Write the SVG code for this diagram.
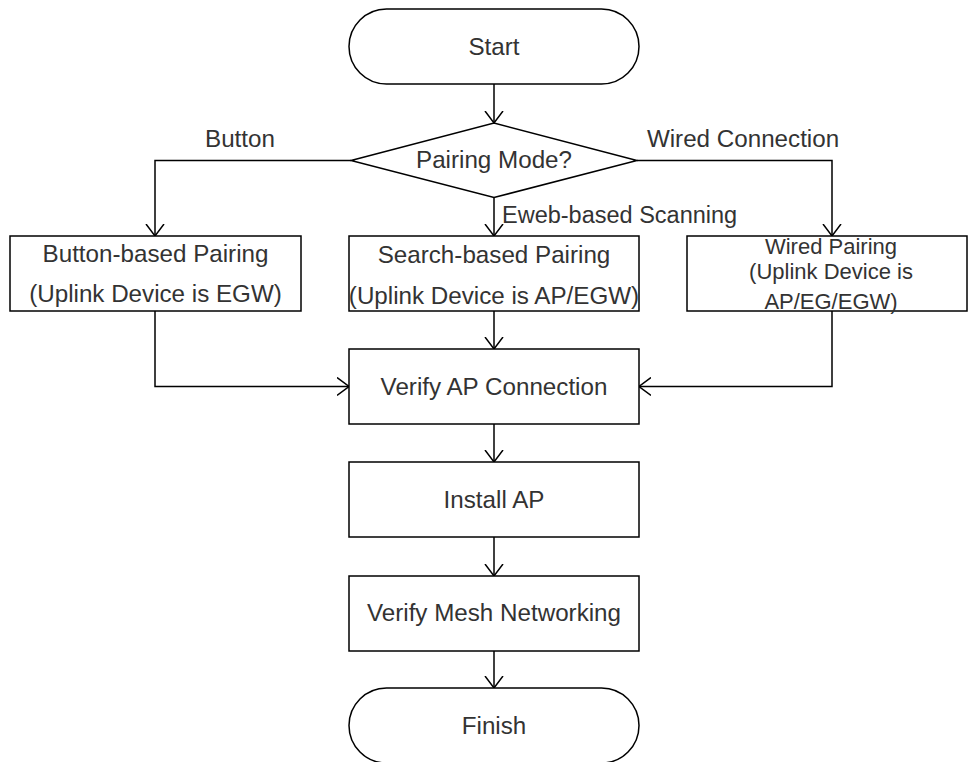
<svg xmlns="http://www.w3.org/2000/svg" width="968" height="762" viewBox="0 0 968 762">
<defs>
<style>
.shape{fill:#ffffff;stroke:#000000;stroke-width:1.5}
.t{font-family:"Liberation Sans",Arial,sans-serif;font-size:24.2px;fill:#333333;text-anchor:middle}
.lbl{font-family:"Liberation Sans",Arial,sans-serif;font-size:23.5px;fill:#333333}
.w{font-size:22px}
.c{fill:none;stroke:#000000;stroke-width:1.5}
</style>
<marker id="arr" viewBox="0 0 12 20" refX="12" refY="10" markerWidth="12" markerHeight="20" markerUnits="userSpaceOnUse" orient="auto">
<path d="M0,1 L12,10 L0,19" fill="none" stroke="#000000" stroke-width="1.5"/>
</marker>
</defs>
<rect width="968" height="762" fill="#ffffff"/>
<g id="connectors">
<path class="c" d="M494,84 L494,123" marker-end="url(#arr)"/>
<path class="c" d="M494,197.5 L494,236" marker-end="url(#arr)"/>
<path class="c" d="M351,160.5 L155,160.5 L155,236" marker-end="url(#arr)"/>
<path class="c" d="M637,160.5 L832,160.5 L832,236" marker-end="url(#arr)"/>
<path class="c" d="M155,311 L155,386.5 L349,386.5" marker-end="url(#arr)"/>
<path class="c" d="M494,311 L494,349" marker-end="url(#arr)"/>
<path class="c" d="M832,311 L832,386.5 L639,386.5" marker-end="url(#arr)"/>
<path class="c" d="M494,424 L494,462" marker-end="url(#arr)"/>
<path class="c" d="M494,537 L494,576" marker-end="url(#arr)"/>
<path class="c" d="M494,651 L494,688" marker-end="url(#arr)"/>
<text class="t" x="240" y="147">Button</text>
<text class="t" x="743" y="147">Wired Connection</text>
<text class="lbl" x="502" y="223">Eweb-based Scanning</text>
</g>
<g id="start">
<rect class="shape" x="349" y="9" width="290" height="75" rx="37.5" ry="37.5"/>
<text class="t" x="494" y="55">Start</text>
</g>
<g id="decision">
<polygon class="shape" points="351,160.5 494,123 637,160.5 494,197.5"/>
<text class="t" x="494" y="168">Pairing Mode?</text>
</g>
<g id="button-pairing">
<rect class="shape" x="10" y="236" width="291" height="75"/>
<text class="t" x="155.5" y="262">Button-based Pairing</text>
<text class="t" x="155.5" y="302">(Uplink Device is EGW)</text>
</g>
<g id="search-pairing">
<rect class="shape" x="349" y="236" width="290" height="75"/>
<text class="t" x="494" y="263">Search-based Pairing</text>
<text class="t" x="494" y="304">(Uplink Device is AP/EGW)</text>
</g>
<g id="wired-pairing">
<rect class="shape" x="687" y="236" width="280" height="75"/>
<text class="t w" x="831" y="254">Wired Pairing</text>
<text class="t w" x="831" y="279">(Uplink Device is</text>
<text class="t w" x="831" y="309">AP/EG/EGW)</text>
</g>
<g id="verify-ap">
<rect class="shape" x="349" y="349" width="290" height="75"/>
<text class="t" x="494" y="395">Verify AP Connection</text>
</g>
<g id="install-ap">
<rect class="shape" x="349" y="462" width="290" height="75"/>
<text class="t" x="494" y="508">Install AP</text>
</g>
<g id="verify-mesh">
<rect class="shape" x="349" y="576" width="290" height="75"/>
<text class="t" x="494" y="621">Verify Mesh Networking</text>
</g>
<g id="finish">
<rect class="shape" x="349" y="688" width="290" height="75" rx="37.5" ry="37.5"/>
<text class="t" x="494" y="734">Finish</text>
</g>
</svg>
